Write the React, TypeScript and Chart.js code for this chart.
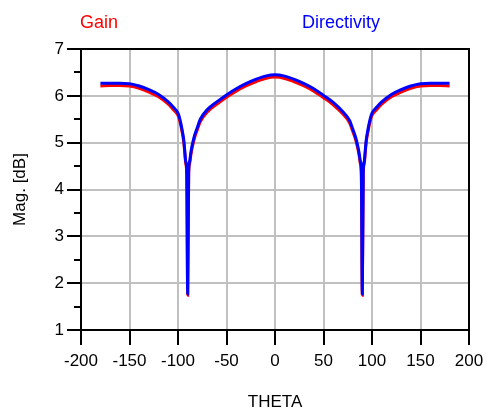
import React, { useEffect, useRef } from "react";
import { Chart, registerables } from "chart.js";

Chart.register(...registerables);

const FONT = '"Liberation Sans", Arial, sans-serif';

const theta = [
  -180, -170, -160, -150, -140, -130, -120, -110, -105, -100, -98, -96, -94, -93, -92, -91, -90,
  -89, -88, -87, -86, -85, -83, -80, -77, -70, -60, -50, -40, -30, -20, -10, 0,
  10, 20, 30, 40, 50, 60, 70, 77, 80, 83, 85, 86, 87, 88, 89, 90,
  91, 92, 93, 94, 96, 98, 100, 105, 110, 120, 130, 140, 150, 160, 170, 180,
];

const directivity = [
  6.27, 6.27, 6.27, 6.26, 6.21, 6.13, 6.03, 5.87, 5.76, 5.63, 5.5, 5.3, 5.05, 4.82, 4.6, 4.38, 1.77,
  4.38, 4.6, 4.75, 4.88, 4.98, 5.15, 5.33, 5.5, 5.7, 5.87, 6.02, 6.15, 6.26, 6.35, 6.42, 6.45,
  6.42, 6.35, 6.26, 6.15, 6.01, 5.86, 5.66, 5.47, 5.3, 5.12, 4.96, 4.86, 4.74, 4.6, 4.38, 1.77,
  4.38, 4.6, 4.82, 5.05, 5.3, 5.5, 5.63, 5.76, 5.87, 6.03, 6.13, 6.21, 6.26, 6.27, 6.27, 6.27,
];

const gain = [
  6.21, 6.22, 6.22, 6.21, 6.16, 6.08, 5.98, 5.82, 5.71, 5.58, 5.45, 5.25, 5.0, 4.77, 4.55, 4.33, 1.74,
  4.33, 4.55, 4.7, 4.83, 4.93, 5.1, 5.28, 5.45, 5.65, 5.82, 5.97, 6.1, 6.21, 6.3, 6.37, 6.4,
  6.37, 6.3, 6.21, 6.1, 5.96, 5.81, 5.61, 5.42, 5.25, 5.07, 4.91, 4.81, 4.69, 4.55, 4.33, 1.74,
  4.33, 4.55, 4.77, 5.0, 5.25, 5.45, 5.58, 5.71, 5.82, 5.98, 6.08, 6.16, 6.21, 6.22, 6.22, 6.21,
];

const seriesNames = ["Gain", "Directivity"];
const seriesColors = ["#ff0000", "#0000ff"];
const xMin = -200;
const xMax = 200;
const xStep = 50;
const yMin = 1;
const yMax = 7;
const yStep = 0.5;
const xTitle = "THETA";
const yTitle = "Mag. [dB]";

const framePlugin = {
  id: "framePlugin",
  afterDraw(chart: any) {
    const { ctx, chartArea: a, scales } = chart;
    const xs = scales.x;
    const ys = scales.y;
    ctx.save();
    ctx.strokeStyle = "#000";
    ctx.lineWidth = 2;
    ctx.strokeRect(a.left, a.top, a.right - a.left, a.bottom - a.top);
    ctx.beginPath();
    xs.ticks.forEach((t: any) => {
      const px = Math.round(xs.getPixelForValue(t.value));
      ctx.moveTo(px, a.bottom);
      ctx.lineTo(px, a.bottom + 15);
    });
    ys.ticks.forEach((t: any) => {
      const py = Math.round(ys.getPixelForValue(t.value));
      const len = Number.isInteger(t.value) ? 14 : 7;
      ctx.moveTo(a.left - len, py);
      ctx.lineTo(a.left, py);
    });
    ctx.stroke();
    ctx.font = `18px ${FONT}`;
    ctx.textAlign = "center";
    ctx.textBaseline = "alphabetic";
    ctx.fillStyle = seriesColors[0];
    ctx.fillText(seriesNames[0], a.left + 18, 28);
    ctx.fillStyle = seriesColors[1];
    ctx.fillText(seriesNames[1], a.left + 260, 28);
    ctx.restore();
  },
};

export default function App() {
  const ref = useRef<HTMLCanvasElement>(null);
  useEffect(() => {
    const canvas = ref.current!;
    const chart = new Chart(canvas, {
      type: "line",
      data: {
        datasets: [
          {
            label: seriesNames[0],
            data: theta.map((t, i) => ({ x: t, y: gain[i] })),
            borderColor: seriesColors[0],
            backgroundColor: seriesColors[0],
            borderWidth: 3,
            pointRadius: 0,
            cubicInterpolationMode: "monotone",
            order: 2,
          },
          {
            label: seriesNames[1],
            data: theta.map((t, i) => ({ x: t, y: directivity[i] })),
            borderColor: seriesColors[1],
            backgroundColor: seriesColors[1],
            borderWidth: 3,
            pointRadius: 0,
            cubicInterpolationMode: "monotone",
            order: 1,
          },
        ],
      },
      options: {
        animation: false,
        responsive: false,
        devicePixelRatio: 1,
        layout: { padding: { top: 49, right: 18, left: 0, bottom: 0 } },
        plugins: { legend: { display: false }, tooltip: { enabled: false } },
        scales: {
          x: {
            type: "linear",
            min: xMin,
            max: xMax,
            afterFit: (s: any) => {
              s.height = 84;
              s.paddingLeft = 0;
              s.paddingRight = 0;
            },
            border: { display: false },
            grid: { color: "#c0c0c0", lineWidth: 2, drawTicks: false },
            ticks: {
              stepSize: xStep,
              autoSkip: false,
              maxRotation: 0,
              padding: 21,
              color: "#000",
              font: { family: FONT, size: 17 },
            },
            title: {
              display: true,
              text: xTitle,
              color: "#000",
              font: { family: FONT, size: 17 },
              padding: { top: 0, bottom: 1 },
            },
          },
          y: {
            type: "linear",
            min: yMin,
            max: yMax,
            afterFit: (s: any) => {
              s.width = 81;
              s.paddingTop = 0;
              s.paddingBottom = 0;
            },
            border: { display: false },
            grid: {
              color: (c: any) => (c.tick && Number.isInteger(c.tick.value) ? "#c0c0c0" : "rgba(0,0,0,0)"),
              lineWidth: 2,
              drawTicks: false,
            },
            ticks: {
              stepSize: yStep,
              autoSkip: false,
              padding: 17,
              color: "#000",
              font: { family: FONT, size: 17 },
              callback: (v: any) => (Number.isInteger(v) ? String(v) : ""),
            },
            title: {
              display: true,
              text: yTitle,
              color: "#000",
              font: { family: FONT, size: 17 },
              padding: { top: 10, bottom: 0 },
            },
          },
        },
      },
      plugins: [framePlugin],
    });
    return () => chart.destroy();
  }, []);
  return (
    <div style={{ position: "fixed", left: 0, top: 0, width: 487, height: 414, background: "#fff" }}>
      <canvas ref={ref} width={487} height={414} style={{ display: "block", width: 487, height: 414 }} />
    </div>
  );
}
